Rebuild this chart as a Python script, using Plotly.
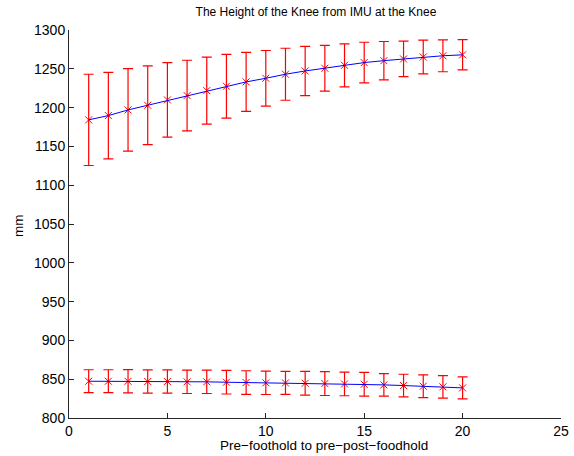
import plotly.graph_objects as go

x = list(range(1, 21))

upper_mean = [1184.2, 1189.7, 1197.0, 1203.0, 1209.9, 1215.5, 1221.9, 1227.5, 1233.1, 1237.8,
              1243.0, 1247.2, 1250.7, 1254.5, 1258.0, 1260.5, 1262.7, 1265.2, 1266.8, 1268.0]
upper_err = [58.8, 55.8, 53.2, 50.8, 48.0, 45.5, 43.1, 41.0, 38.0, 35.8,
             33.5, 31.7, 29.4, 27.7, 26.2, 24.7, 22.9, 21.7, 20.6, 19.5]

lower_mean = [847.4, 847.4, 847.3, 847.0, 847.0, 846.6, 846.6, 846.1, 845.7, 845.3,
              845.2, 844.8, 844.4, 843.9, 843.5, 842.7, 841.8, 840.9, 840.1, 838.8]
lower_err = [14.8, 14.8, 15.0, 15.0, 15.0, 15.0, 15.0, 15.2, 15.2, 15.0,
             14.8, 15.2, 15.4, 15.2, 15.2, 14.6, 14.6, 14.6, 14.4, 14.2]

x_ticks = [0, 5, 10, 15, 20, 25]
y_ticks = list(range(800, 1301, 50))

title = "The Height of the Knee from IMU at the Knee"
x_title = "Pre\u2212foothold to pre\u2212post\u2212foodhold"
y_title = "mm"

FONT = "Liberation Sans, Arial, Helvetica, sans-serif"

fig = go.Figure()
for mean, err in [(upper_mean, upper_err), (lower_mean, lower_err)]:
    fig.add_trace(go.Scatter(
        x=x, y=mean, mode="markers",
        marker=dict(symbol="x-thin", size=7, color="red", line=dict(color="red", width=1)),
        error_y=dict(type="data", array=err, visible=True, color="red", thickness=1.2, width=5),
        showlegend=False, hoverinfo="skip"))
    fig.add_trace(go.Scatter(
        x=x, y=mean, mode="lines",
        line=dict(color="blue", width=1),
        showlegend=False, hoverinfo="skip"))

axis_common = dict(
    showgrid=False, zeroline=False, showline=True, linecolor="#262626", linewidth=1,
    ticks="inside", ticklen=5, tickcolor="#262626", tickwidth=1, automargin=False,
    tickfont=dict(family=FONT, size=14, color="black"), mirror=False,
)

fig.update_layout(
    width=574, height=456,
    margin=dict(l=69, r=13, t=30, b=38, pad=0),
    paper_bgcolor="white", plot_bgcolor="white",
    title=dict(text=title, x=316 / 574, xanchor="center", y=1 - 12 / 456, yanchor="middle",
               font=dict(family=FONT, size=12, color="black")),
    xaxis=dict(range=[0, 25], tickvals=x_ticks, **axis_common),
    yaxis=dict(range=[800, 1300], tickvals=y_ticks, **axis_common),
    annotations=[
        dict(text=x_title, xref="paper", yref="paper", x=(324 - 69) / 492, y=-(445 - 418) / 388,
             xanchor="center", yanchor="middle", showarrow=False,
             font=dict(family=FONT, size=13.5, color="black")),
        dict(text=y_title, xref="paper", yref="paper", x=-(69 - 18) / 492, y=(418 - 226) / 388,
             xanchor="center", yanchor="middle", showarrow=False, textangle=-90,
             font=dict(family=FONT, size=13.5, color="black")),
    ],
)

fig.write_html("out.html", config={"displayModeBar": False},
               post_script="document.body.style.margin='0';document.body.style.overflow='hidden';")
